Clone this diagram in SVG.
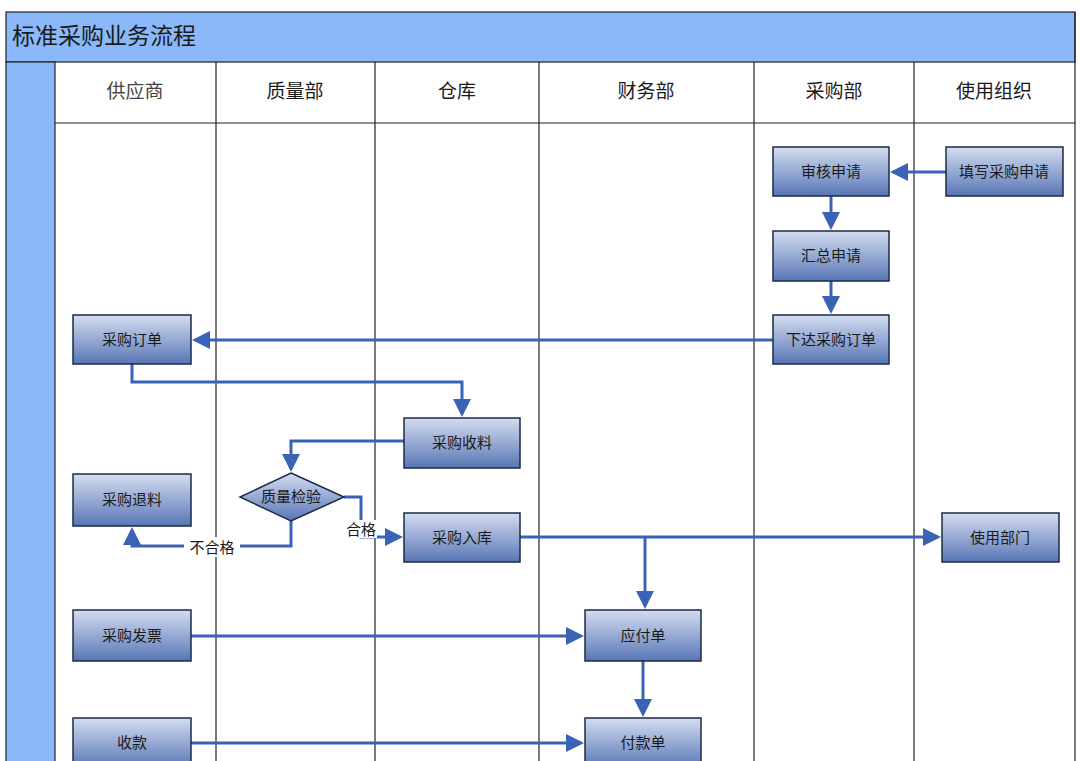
<svg xmlns="http://www.w3.org/2000/svg" width="1080" height="761" viewBox="0 0 1080 761">
<style>
text{font-family:"Noto Sans CJK SC","Liberation Sans",sans-serif;fill:#1a1a1a}
.h{font-size:19px;text-anchor:middle}
.n rect,.n polygon{fill:url(#g);stroke:#1c2a48;stroke-width:1.5}
.n text{font-size:15px;text-anchor:middle}
.c{fill:none;stroke:#3b63b5;stroke-width:3;marker-end:url(#a)}
.l{stroke:#222;stroke-width:1.2}
</style>
<defs>
<linearGradient id="g" x1="0" y1="0" x2="0" y2="1"><stop offset="0" stop-color="#d4ddf0"/><stop offset="1" stop-color="#5876b6"/></linearGradient>
<marker id="a" markerWidth="6" markerHeight="6" refX="5" refY="3" orient="auto" markerUnits="strokeWidth"><path d="M0,0 L6,3 L0,6 z" fill="#3b63b5"/></marker>
</defs>
<rect width="1080" height="761" fill="#fff"/>
<rect x="6" y="12" width="1069" height="50" fill="#8ab8f8" stroke="#222" stroke-width="1.2"/>
<text x="12" y="44" style="font-size:23px">标准采购业务流程</text>
<rect x="6" y="62" width="49" height="710" fill="#8ab8f8" stroke="#222" stroke-width="1.2"/>
<g class="l">
<line x1="55" y1="123" x2="1075" y2="123"/>
<line x1="216" y1="62" x2="216" y2="761"/><line x1="375" y1="62" x2="375" y2="761"/>
<line x1="539" y1="62" x2="539" y2="761"/><line x1="754" y1="62" x2="754" y2="761"/>
<line x1="914" y1="62" x2="914" y2="761"/><line x1="1075" y1="12" x2="1075" y2="761"/>
</g>
<text class="h" x="135" y="98" style="fill:#444">供应商</text>
<text class="h" x="295" y="98">质量部</text>
<text class="h" x="457" y="98">仓库</text>
<text class="h" x="646" y="98">财务部</text>
<text class="h" x="834" y="98">采购部</text>
<text class="h" x="994" y="98">使用组织</text>
<g id="connectors">
<path class="c" d="M946,172 H893"/>
<path class="c" d="M831,196 V227"/>
<path class="c" d="M831,281 V311"/>
<path class="c" d="M773,340 H195"/>
<path class="c" d="M132,364 V382 H462 V414"/>
<path class="c" d="M404,441 H291 V469"/>
<path class="c" d="M291,521 V546 H132 V530"/>
<path class="c" d="M344,497 H361 V537 H400"/>
<path class="c" d="M520,537 H938"/>
<path class="c" d="M645,537 V606"/>
<path class="c" d="M191,636 H581"/>
<path class="c" d="M643,661 V714"/>
<path class="c" d="M191,743 H581"/>
</g>
<rect x="184" y="537" width="56" height="20" fill="#fff"/>
<text x="212" y="553" style="font-size:15px;text-anchor:middle">不合格</text>
<rect x="345" y="520" width="32" height="18" fill="#fff"/>
<text x="361" y="535" style="font-size:15px;text-anchor:middle">合格</text>
<g id="n1" class="n"><rect x="773" y="147" width="116" height="49"/><text x="831" y="177">审核申请</text></g>
<g id="n2" class="n"><rect x="946" y="147" width="117" height="49"/><text x="1004" y="177">填写采购申请</text></g>
<g id="n3" class="n"><rect x="773" y="231" width="116" height="50"/><text x="831" y="261">汇总申请</text></g>
<g id="n4" class="n"><rect x="773" y="315" width="116" height="49"/><text x="831" y="345">下达采购订单</text></g>
<g id="n5" class="n"><rect x="73" y="315" width="118" height="49"/><text x="132" y="345">采购订单</text></g>
<g id="n6" class="n"><rect x="404" y="418" width="116" height="50"/><text x="462" y="448">采购收料</text></g>
<g id="n7" class="n"><rect x="73" y="474" width="118" height="52"/><text x="132" y="505">采购退料</text></g>
<g id="n8" class="n"><polygon points="291,473 344,497 291,521 240,497"/><text x="291" y="502">质量检验</text></g>
<g id="n9" class="n"><rect x="404" y="513" width="116" height="49"/><text x="462" y="543">采购入库</text></g>
<g id="n10" class="n"><rect x="942" y="513" width="117" height="49"/><text x="1000" y="543">使用部门</text></g>
<g id="n11" class="n"><rect x="73" y="610" width="118" height="51"/><text x="132" y="641">采购发票</text></g>
<g id="n12" class="n"><rect x="585" y="610" width="116" height="51"/><text x="643" y="641">应付单</text></g>
<g id="n13" class="n"><rect x="73" y="718" width="118" height="50"/><text x="132" y="748">收款</text></g>
<g id="n14" class="n"><rect x="585" y="718" width="116" height="50"/><text x="643" y="748">付款单</text></g>
</svg>
